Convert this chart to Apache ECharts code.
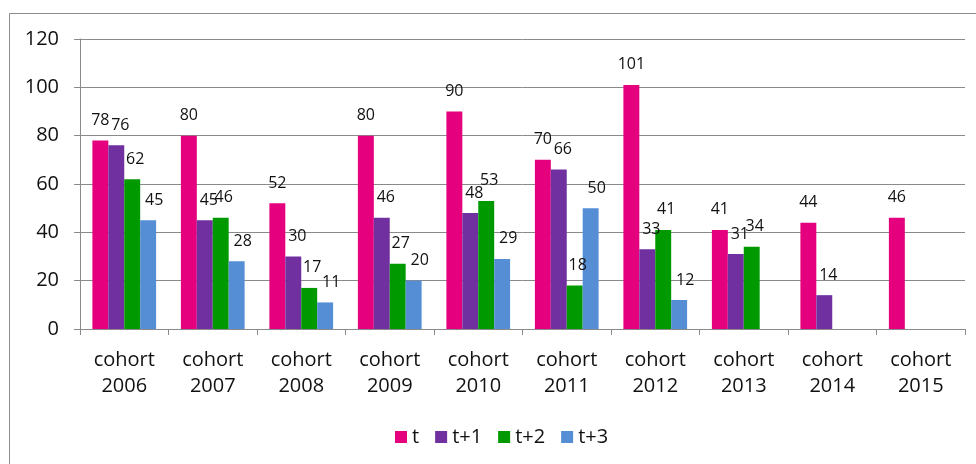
<!DOCTYPE html>
<html>
<head>
<meta charset="utf-8">
<script src="https://cdn.jsdelivr.net/npm/echarts@6/dist/echarts.min.js"></script>
<style>
html,body{margin:0;padding:0;background:#fff;}
#c{width:976px;height:464px;}
</style>
</head>
<body>
<div id="c"></div>
<script>
const categories = ['cohort\n2006','cohort\n2007','cohort\n2008','cohort\n2009','cohort\n2010','cohort\n2011','cohort\n2012','cohort\n2013','cohort\n2014','cohort\n2015'];
const seriesNames = ['t','t+1','t+2','t+3'];
const valuesT  = [78, 80, 52, 80, 90, 70, 101, 41, 44, 46];
const valuesT1 = [76, 45, 30, 46, 48, 66, 33, 31, 14, null];
const valuesT2 = [62, 46, 17, 27, 53, 18, 41, 34, null, null];
const valuesT3 = [45, 28, 11, 20, 29, 50, 12, null, null, null];
const yTicks = [0, 20, 40, 60, 80, 100, 120];

const colors = ['#E5007D', '#7030A0', '#009A00', '#558ED5'];
const labelDx = [0, 4, 3, 6];
const FONT = '"Open Sans", "Noto Sans", sans-serif';
const allValues = [valuesT, valuesT1, valuesT2, valuesT3];

const chart = echarts.init(document.getElementById('c'), null, {renderer: 'canvas'});
const option = {
  animation: false,
  textStyle: {fontFamily: FONT},
  graphic: [{
    type: 'rect', z: -1,
    shape: {x: 9.5, y: 13.5, width: 1000, height: 500},
    style: {fill: 'none', stroke: '#8c8c8c', lineWidth: 1}
  }],
  grid: {left: 80, right: 11, top: 39, bottom: 135, containLabel: false},
  legend: {
    data: seriesNames,
    left: 395, top: 427, padding: 0,
    itemWidth: 12, itemHeight: 12, itemGap: 16,
    icon: 'rect',
    textStyle: {fontFamily: FONT, fontSize: 20, color: '#111'}
  },
  xAxis: {
    type: 'category',
    data: categories,
    boundaryGap: true,
    axisLine: {lineStyle: {color: '#8a8a8a', width: 1}},
    axisTick: {show: true, length: 6, alignWithLabel: false, lineStyle: {color: '#8a8a8a'}},
    axisLabel: {fontFamily: FONT, fontSize: 20, lineHeight: 26, color: '#111', margin: 18, interval: 0}
  },
  yAxis: {
    type: 'value',
    min: yTicks[0], max: yTicks[yTicks.length - 1], interval: yTicks[1] - yTicks[0],
    axisLine: {show: true, lineStyle: {color: '#8a8a8a', width: 1}},
    axisTick: {show: true, length: 6, lineStyle: {color: '#8a8a8a'}},
    splitLine: {show: true, lineStyle: {color: '#8a8a8a', width: 1}},
    axisLabel: {fontFamily: FONT, fontSize: 20, color: '#111', margin: 21}
  },
  series: seriesNames.map((name, i) => ({
    name: name,
    type: 'bar',
    data: allValues[i],
    barGap: '0%',
    barCategoryGap: '28%',
    itemStyle: {color: colors[i]},
    label: {
      show: true, position: 'top', distance: 12,
      offset: [labelDx[i], 0],
      fontFamily: FONT, fontSize: 16, lineHeight: 16, color: '#111'
    }
  }))
};
chart.setOption(option);
</script>
</body>
</html>
